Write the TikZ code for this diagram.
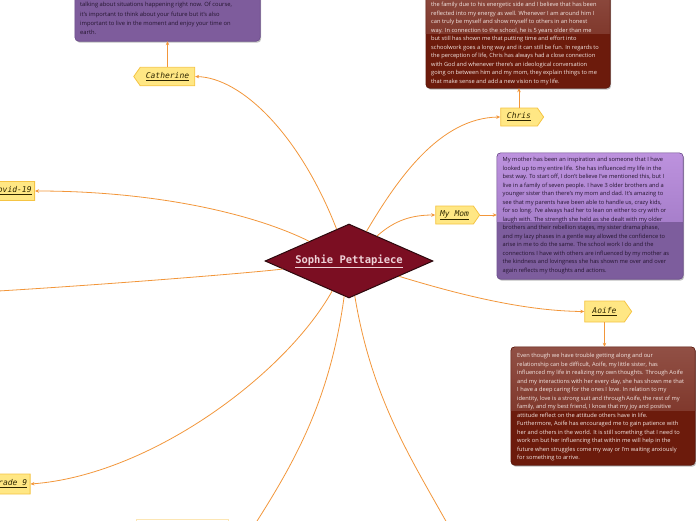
\documentclass[tikz,border=0pt]{standalone}
\usepackage{fontspec}
\setmainfont{Open Sans}
\newfontfamily\labelfont{DejaVu Sans Mono}
\usetikzlibrary{shapes.geometric,shapes.symbols,arrows.meta,calc}
\definecolor{conncol}{HTML}{F2963A}
\definecolor{labfill}{HTML}{FFE784}
\definecolor{labdraw}{HTML}{F5C444}
\definecolor{labtext}{HTML}{2E2600}
\definecolor{diafill}{HTML}{7B0E22}
\definecolor{diadraw}{HTML}{2C080D}
\definecolor{diatext}{HTML}{EED2D8}
\definecolor{momtop}{HTML}{BD92DE}
\definecolor{mommid}{HTML}{A77FCB}
\definecolor{momdark}{HTML}{7D5D9D}
\definecolor{momborder}{HTML}{6A4B8A}
\definecolor{momtxt}{HTML}{24152F}
\definecolor{brtop}{HTML}{915045}
\definecolor{brmid}{HTML}{80392D}
\definecolor{brdark}{HTML}{6C1B0C}
\definecolor{brborder}{HTML}{561308}
\definecolor{brtxt}{HTML}{F3E6E2}
\definecolor{catdark}{HTML}{7E5C9C}
\definecolor{palebox}{HTML}{FCE6B4}
\tikzset{
  conn/.style={draw=conncol, line width=0.8pt, -{Stealth[length=4pt,width=3.5pt]}},
  tag/.style={signal, draw=labdraw, fill=labfill, line width=0.8pt,
    font=\labelfont\itshape\fontsize{8}{9}\selectfont, text=labtext,
    inner xsep=3pt, inner ysep=0pt, signal pointer angle=110},
  centre/.style={diamond, fill=diafill, draw=diadraw, line width=1pt, inner sep=0pt,
    aspect=2.27, minimum width=168pt, minimum height=74pt, text=diatext,
    font=\labelfont\bfseries\fontsize{10.5}{12}\selectfont},
  infobox/.style={rectangle, inner sep=0pt},
  mtext/.style={inner sep=0pt, align=left, anchor=north west,
    font=\fontsize{5.7}{8.5}\selectfont},
  shadowbox/.style={fill=black, opacity=0.25, rounded corners=4pt}
}
\begin{document}
\begin{tikzpicture}[x=1pt,y=-1pt]
\useasboundingbox (0,0) rectangle (696,520);
\clip (0,0) rectangle (696,520);

% ---------- info boxes ----------
% Catherine box
\node[infobox, minimum width=185pt, minimum height=111pt] (catbox) at (167.5,-14.5) {};
\fill[shadowbox] ($(catbox.north west)+(1,1.5)$) rectangle ($(catbox.south east)+(1,1.5)$);
\fill[catdark, rounded corners=4pt] (catbox.north west) rectangle (catbox.south east);
\draw[momborder, line width=0.6pt, rounded corners=4pt] (catbox.north west) rectangle (catbox.south east);
\node[mtext, text=momtxt, font=\fontsize{5.8}{9.3}\selectfont] (cattext) at (80,2.3)
 {talking about situations happening right now. Of course,\\
  it's important to think about your future but it's also\\
  important to live in the moment and enjoy your time on\\
  earth.};

% Chris box
\node[infobox, minimum width=184pt, minimum height=110pt] (chrisbox) at (518,33) {};
\fill[shadowbox] ($(chrisbox.north west)+(1,1.5)$) rectangle ($(chrisbox.south east)+(1,1.5)$);
\begin{scope}
\clip[rounded corners=4pt] (chrisbox.north west) rectangle (chrisbox.south east);
\fill[brdark] (chrisbox.north west) rectangle (chrisbox.south east);
\shade[top color=brtop, bottom color=brmid] (chrisbox.north west) rectangle (chrisbox.east);
\end{scope}
\draw[brborder, line width=0.6pt, rounded corners=4pt] (chrisbox.north west) rectangle (chrisbox.south east);
\node[mtext, text=brtxt] (christext) at (431,2.3)
 {the family due to his energetic side and I believe that has been\\
  reflected into my energy as well. Whenever I am around him I\\
  can truly be myself and show myself to others in an honest\\
  way. In connection to the school, he is 5 years older than me\\
  but still has shown me that putting time and effort into\\
  schoolwork goes a long way and it can still be fun. In regards to\\
  the perception of life, Chris has always had a close connection\\
  with God and whenever there's an ideological conversation\\
  going on between him and my mom, they explain things to me\\
  that make sense and add a new vision to my life.};

% Mom box
\node[infobox, minimum width=186pt, minimum height=126pt] (mombox) at (590,216) {};
\fill[shadowbox] ($(mombox.north west)+(1,1.5)$) rectangle ($(mombox.south east)+(1,1.5)$);
\begin{scope}
\clip[rounded corners=4pt] (mombox.north west) rectangle (mombox.south east);
\fill[momdark] (mombox.north west) rectangle (mombox.south east);
\shade[top color=momtop, bottom color=mommid] (mombox.north west) rectangle ($(mombox.east)+(0,5)$);
\end{scope}
\draw[momborder, line width=0.6pt, rounded corners=4pt] (mombox.north west) rectangle (mombox.south east);
\node[mtext, text=momtxt] (momtext) at (502.5,157.3)
 {My mother has been an inspiration and someone that I have\\
  looked up to my entire life. She has influenced my life in the\\
  best way. To start off, I don't believe I've mentioned this, but I\\
  live in a family of seven people. I have 3 older brothers and a\\
  younger sister than there's my mom and dad. It's amazing to\\
  see that my parents have been able to handle us, crazy kids,\\
  for so long. I've always had her to lean on either to cry with or\\
  laugh with. The strength she held as she dealt with my older\\
  brothers and their rebellion stages, my sister drama phase,\\
  and my lazy phases in a gentle way allowed the confidence to\\
  arise in me to do the same. The school work I do and the\\
  connections I have with others are influenced by my mother as\\
  the kindness and lovingness she has shown me over and over\\
  again reflects my thoughts and actions.};

% Aoife box
\node[infobox, minimum width=184pt, minimum height=118pt] (aoifebox) at (603,406) {};
\fill[shadowbox] ($(aoifebox.north west)+(1,1.5)$) rectangle ($(aoifebox.south east)+(1,1.5)$);
\begin{scope}
\clip[rounded corners=4pt] (aoifebox.north west) rectangle (aoifebox.south east);
\fill[brdark] (aoifebox.north west) rectangle (aoifebox.south east);
\shade[top color=brtop, bottom color=brmid] (aoifebox.north west) rectangle ($(aoifebox.east)+(0,4)$);
\end{scope}
\draw[brborder, line width=0.6pt, rounded corners=4pt] (aoifebox.north west) rectangle (aoifebox.south east);
\node[mtext, text=brtxt] (aoifetext) at (517,353)
 {Even though we have trouble getting along and our\\
  relationship can be difficult, Aoife, my little sister, has\\
  influenced my life in realizing my own thoughts. Through Aoife\\
  and my interactions with her every day, she has shown me that\\
  I have a deep caring for the ones I love. In relation to my\\
  identity, love is a strong suit and through Aoife, the rest of my\\
  family, and my best friend, I know that my joy and positive\\
  attitude reflect on the attitude others have in life.\\
  Furthermore, Aoife has encouraged me to gain patience with\\
  her and others in the world. It is still something that I need to\\
  work on but her influencing that within me will help in the\\
  future when struggles come my way or I'm waiting anxiously\\
  for something to arrive.};

% pale box at the bottom edge
\node[rectangle, draw=palebox, fill=white, minimum width=92pt, minimum height=16pt, inner sep=0pt] (palebox) at (182,527) {};

% ---------- labels ----------
\node[tag, signal to=west, minimum width=61pt, minimum height=18.5pt] (cath) at (167.5,76.5) {\underline{Catherine}};
\node[tag, signal to=east, minimum width=43pt, minimum height=18pt] (chris) at (519,117) {\underline{Chris}};
\node[tag, signal to=east, minimum width=44pt, minimum height=18pt] (mom) at (454.5,215) {\underline{My Mom}};
\node[tag, signal to=east, minimum width=47pt, minimum height=21pt] (aoife) at (604.5,311.5) {\underline{Aoife}};
\node[tag, signal to=west, minimum height=19pt, anchor=east] (covid) at (35,191) {\underline{Covid-19}};
\node[tag, signal to=west, minimum height=20pt, anchor=east] (grade) at (30.5,484) {\underline{Grade 9}};

% ---------- central node ----------
\node[centre] (d) at (349,261) {\underline{Sophie Pettapiece}};

% off-page ends
\coordinate (offl) at (-10,291.5);
\coordinate (offbl) at (250,532);
\coordinate (offbr) at (452,532);

% ---------- connectors ----------
\draw[conn] (d) .. controls (300,135) and (242,78) .. (cath.east);
\draw[conn] (d) .. controls (398,178) and (440,118) .. (chris.west);
\draw[conn] (d) .. controls (395,220) and (412,215) .. (mom.west);
\draw[conn] (d) .. controls (470,298) and (530,311) .. (aoife.west);
\draw[conn] (d) .. controls (250,212) and (150,191) .. (covid.east);
\draw[conn] (d) .. controls (250,273) and (100,285) .. (offl);
\draw[conn] (d) .. controls (285,375) and (150,475) .. (grade.east);
\draw[conn] (d) .. controls (330,400) and (295,462) .. (offbl);
\draw[conn] (d) .. controls (372,400) and (412,460) .. (offbr);

\draw[conn] (cath.north) -- (cath.north |- catbox.south);
\draw[conn] (chris.north) -- (chris.north |- chrisbox.south);
\draw[conn] (mom.east) -- (mom.east -| mombox.west);
\draw[conn] (aoife.south) -- (aoife.south |- aoifebox.north);
\end{tikzpicture}
\end{document}
